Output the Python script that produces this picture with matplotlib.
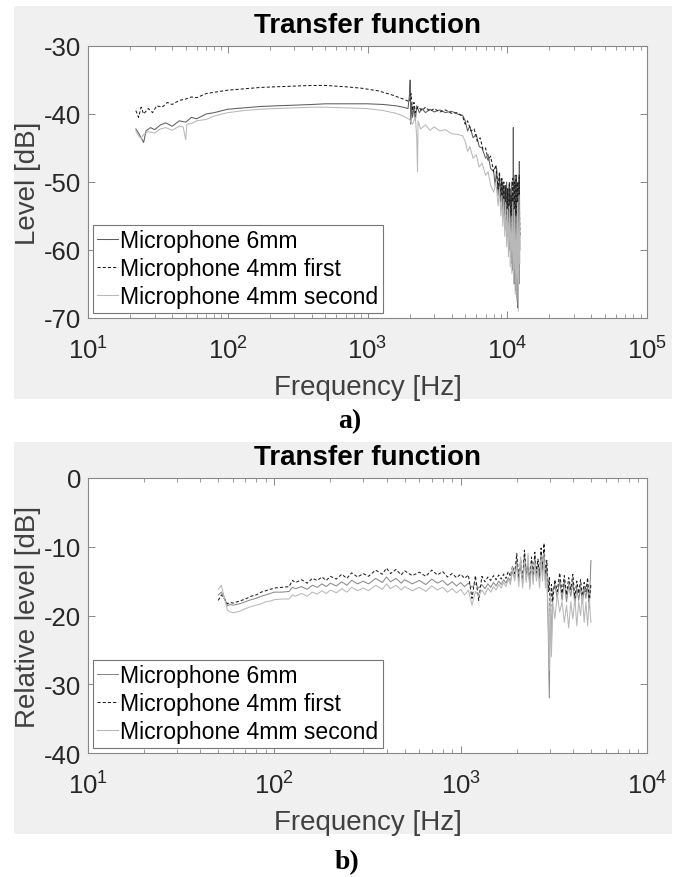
import matplotlib
matplotlib.use("Agg")
import matplotlib.pyplot as plt
from matplotlib.patches import Rectangle
from matplotlib.ticker import LogLocator, NullFormatter

plt.rcParams['font.family'] = ['Liberation Sans', 'DejaVu Sans']
plt.rcParams['axes.unicode_minus'] = False
plt.rcParams['mathtext.fontset'] = 'custom'
plt.rcParams['mathtext.rm'] = 'Liberation Sans'

labels = ["Microphone 6mm", "Microphone 4mm first", "Microphone 4mm second"]

# ---------- panel a ----------
a_6mm_f = [22, 23, 24, 25, 26, 28, 30, 33, 36, 40, 45, 50, 55, 60, 70, 80, 100, 130, 170, 220,
           300, 400, 500, 700, 1000, 1300, 1600, 1800, 1950, 2000, 2020, 2040, 2070, 2100, 2150,
           2200, 2250, 2350, 2450, 2600, 2800, 3000, 3300, 3600, 4000, 4400, 4800, 5000, 5200,
           5400, 5700, 6000, 6300, 6600, 7000, 7300, 7600,
           8000, 8200, 8400, 8600, 8800, 9000, 9100, 9200, 9300, 9400, 9500, 9600, 9700, 9800,
           9900, 10000, 10100, 10200, 10300, 10400, 10500, 10600, 10700, 10800, 10900, 11000,
           11050, 11100, 11200, 11300, 11400, 11500, 11600, 11700, 11800, 11900, 12000, 12100,
           12200, 12300]
a_6mm_v = [-42.2, -42.8, -43.5, -44.2, -42.5, -42.0, -42.3, -41.6, -41.3, -41.8, -41.0, -41.2,
           -40.5, -40.7, -40.0, -39.8, -39.3, -39.1, -38.9, -38.8, -38.7, -38.6, -38.5, -38.5,
           -38.5, -38.6, -38.8, -39.0, -39.2, -37.0, -35.0, -41.5, -38.5, -40.5, -39.0, -41.0,
           -38.8, -39.8, -39.2, -39.8, -39.3, -39.7, -39.4, -39.8, -39.6, -40.0, -40.2, -41.0,
           -42.5, -41.8, -43.5, -43.0, -44.8, -45.0, -46.5, -46.0, -48.0,
           -48.5, -50.5, -48.0, -52.0, -49.0, -53.0, -49.5, -54.0, -50.0, -55.0, -50.5, -56.0,
           -51.0, -57.0, -50.0, -58.0, -51.0, -59.0, -50.5, -60.0, -51.0, -61.0, -50.0, -62.0,
           -52.0, -63.0, -42.0, -64.0, -49.0, -65.0, -50.0, -66.0, -49.0, -67.0, -51.0, -68.5,
           -50.0, -65.0, -47.0, -60.0]

a_first_f = [22, 23, 24, 25, 27, 29, 31, 34, 37, 40, 45, 50, 55, 60, 70, 80, 100, 130, 170, 220,
             300, 400, 500, 700, 900, 1200, 1500, 1800, 2000, 2050, 2100, 2150, 2200, 2300, 2450,
             2600, 2800, 3000, 3300, 3600, 4000, 4400, 4800, 5000, 5200, 5500, 5800, 6100, 6400,
             6700, 7000, 7300, 7600, 8000, 8300, 8600, 8800, 9000, 9150, 9300, 9450, 9600, 9750,
             9900, 10050, 10200, 10350, 10500, 10650, 10800, 10950, 11100, 11250, 11400, 11550,
             11700, 11850, 12000, 12150, 12300]
a_first_v = [-39.5, -40.5, -39.0, -40.0, -39.2, -39.8, -38.8, -39.0, -38.3, -38.6, -38.0, -37.8,
             -37.5, -37.6, -37.0, -36.8, -36.5, -36.3, -36.1, -36.0, -35.9, -35.8, -35.8, -36.0,
             -36.2, -36.6, -37.2, -37.8, -38.2, -37.0, -39.5, -38.3, -39.8, -38.9, -39.5, -39.0,
             -39.6, -39.2, -39.7, -39.4, -39.9, -39.8, -40.4, -41.5, -41.0, -42.5, -42.2, -44.0,
             -43.5, -45.2, -45.0, -46.8, -46.2, -48.5, -47.5, -51.0, -48.5, -53.0, -49.5, -54.0,
             -50.0, -55.5, -50.5, -56.5, -51.0, -58.0, -50.0, -59.0, -52.0, -61.0, -49.5, -62.0,
             -50.0, -64.0, -49.0, -65.5, -50.0, -66.0, -49.0, -58.0]

a_second_f = [22, 23, 24, 25, 27, 30, 33, 36, 40, 45, 48, 50, 51, 55, 60, 70, 80, 100, 130, 170,
              220, 300, 400, 500, 700, 1000, 1300, 1600, 1800, 2000, 2100, 2200, 2250, 2280, 2300,
              2400, 2600, 2800, 3000, 3300, 3600, 4000, 4400, 4800, 5000, 5200, 5400, 5700, 6000,
              6300, 6600, 7000, 7300, 7600, 8000, 8300, 8600, 8800, 9000, 9150, 9300, 9450, 9600,
              9750, 9900, 10050, 10200, 10350, 10500, 10650, 10800, 10950, 11100, 11250, 11400,
              11550, 11700, 11850, 12000, 12150, 12300]
a_second_v = [-42.5, -43.2, -43.6, -43.0, -42.6, -42.8, -42.2, -42.0, -42.4, -41.8, -41.9, -43.8,
              -41.5, -41.4, -41.0, -40.8, -40.3, -39.8, -39.5, -39.3, -39.2, -39.1, -39.0, -39.0,
              -39.1, -39.2, -39.5, -39.9, -40.3, -40.8, -41.5, -40.5, -43.5, -48.5, -41.0, -42.2,
              -41.6, -42.4, -41.9, -42.5, -42.3, -42.9, -43.0, -43.2, -44.0, -45.5, -44.8, -46.5,
              -46.0, -47.8, -47.2, -49.0, -48.5, -50.5, -51.5, -50.0, -53.5, -51.0, -55.0, -52.0,
              -56.5, -52.5, -58.0, -53.0, -59.5, -54.0, -61.0, -53.5, -62.5, -55.0, -63.5, -53.0,
              -65.0, -54.0, -66.5, -55.0, -67.5, -53.0, -69.0, -52.0, -62.0]

# ---------- panel b ----------
b_f = [50, 52, 54, 56, 58, 60, 65, 70, 75, 80, 85, 90, 95, 100, 110, 120, 125, 130, 140, 150,
       160, 170, 180, 190, 200, 215, 230, 245, 260, 280, 300, 320, 350, 380, 400, 420, 450, 480,
       500, 550, 600, 650, 700, 750, 800, 850, 900, 950, 1000, 1050, 1100, 1150, 1200, 1250,
       1300, 1350, 1400, 1450, 1500, 1550, 1600, 1650, 1700, 1750, 1800, 1850, 1900, 1950,
       2000, 2050, 2100, 2150, 2200, 2250, 2300, 2350, 2400, 2450, 2500, 2550, 2600, 2650,
       2700, 2750, 2800, 2850, 2900, 2950, 2990, 3030, 3070, 3120, 3200, 3300, 3400, 3500,
       3600, 3700, 3800, 3900, 4000, 4100, 4200, 4300, 4400, 4500, 4600, 4700, 4800, 4900, 5000]
b_6mm_v = [-17.0, -16.6, -17.4, -18.6, -18.4, -18.5, -18.3, -18.0, -17.7, -17.5, -17.2, -17.0,
           -16.8, -16.6, -16.6, -16.5, -15.9, -16.1, -15.8, -16.2, -15.6, -15.9, -15.4, -15.8,
           -15.3, -15.7, -15.1, -15.6, -14.9, -15.4, -15.0, -15.4, -14.6, -15.2, -14.4, -15.1,
           -14.6, -15.3, -14.8, -15.4, -14.9, -15.5, -14.7, -15.3, -14.9, -15.6, -15.1, -15.7,
           -15.2, -15.8, -15.3, -15.9, -15.4, -16.0, -15.5, -16.1, -15.4, -15.9, -15.2, -15.7,
           -15.0, -15.5, -14.8, -15.3, -14.5, -15.0, -13.5, -14.6, -12.0, -15.0, -12.5, -15.5,
           -11.2, -14.8, -12.5, -15.8, -12.0, -15.0, -11.5, -14.5, -12.5, -15.2, -11.0, -14.2,
           -10.5, -15.0, -13.0, -22.0, -32.0, -18.0, -24.0, -16.5, -15.5, -17.5, -14.8, -17.8,
           -15.0, -18.0, -15.5, -17.2, -15.0, -18.5, -16.0, -17.8, -15.8, -18.2, -16.0, -17.5,
           -15.5, -19.0, -12.0]
b_first_v = [-17.8, -17.0, -17.6, -18.3, -18.1, -18.2, -17.9, -17.6, -17.2, -17.0, -16.6, -16.4,
             -16.2, -16.0, -15.9, -15.8, -14.9, -15.2, -14.8, -15.3, -14.6, -14.9, -14.4, -14.9,
             -14.3, -14.7, -14.0, -14.6, -13.8, -14.4, -13.9, -14.3, -13.4, -14.0, -13.1, -13.9,
             -13.3, -14.1, -13.5, -14.2, -13.7, -14.3, -13.4, -14.1, -13.6, -14.4, -13.9, -14.5,
             -14.0, -14.6, -14.1, -17.5, -14.2, -17.8, -14.3, -15.1, -14.4, -14.9, -14.2, -14.8,
             -14.1, -14.7, -14.0, -14.6, -13.6, -14.3, -12.8, -13.9, -11.0, -14.5, -12.0, -14.8,
             -10.5, -14.0, -12.0, -15.0, -11.5, -14.2, -10.8, -13.8, -11.8, -14.5, -10.2, -13.5,
             -9.5, -14.0, -12.0, -16.5, -14.5, -20.0, -15.5, -18.0, -14.8, -16.5, -13.8, -16.8,
             -14.2, -17.0, -14.5, -16.2, -14.0, -17.5, -15.0, -16.8, -14.8, -17.2, -15.2, -16.5,
             -14.5, -18.0, -15.5]
b_second_v = [-16.2, -15.6, -17.5, -19.2, -19.5, -19.6, -19.4, -19.0, -18.7, -18.5, -18.3, -18.0,
              -17.9, -17.7, -17.6, -17.6, -17.0, -17.2, -16.8, -17.2, -16.6, -16.9, -16.4, -16.8,
              -16.3, -16.7, -16.1, -16.6, -15.9, -16.4, -16.0, -16.4, -15.6, -16.2, -15.4, -16.1,
              -15.6, -16.3, -15.8, -16.4, -15.9, -16.5, -15.7, -16.3, -15.9, -16.6, -16.1, -16.7,
              -16.2, -17.0, -16.3, -18.5, -16.5, -17.2, -16.3, -17.0, -16.0, -16.6, -15.8, -16.3,
              -15.5, -16.0, -15.2, -15.8, -14.8, -15.5, -13.0, -15.0, -12.5, -15.8, -11.5, -16.0,
              -12.0, -15.2, -11.0, -16.2, -12.5, -15.5, -12.0, -15.0, -13.0, -16.0, -11.5, -15.0,
              -11.0, -16.0, -14.0, -20.0, -28.0, -17.0, -26.0, -18.0, -20.5, -17.0, -19.5, -18.0,
              -21.0, -18.5, -21.8, -18.0, -20.5, -17.5, -21.5, -18.0, -20.0, -17.0, -21.0, -18.0,
              -21.5, -17.5, -21.0]

W, H = 681, 878
fig = plt.figure(figsize=(W / 100, H / 100), dpi=100)
fig.patch.set_facecolor('white')

bg = '#f0f0f0'
fig.patches.append(Rectangle((14 / W, 1 - 400 / H), 658 / W, 393 / H, transform=fig.transFigure,
                             facecolor=bg, edgecolor='none', zorder=-10))
fig.patches.append(Rectangle((14 / W, 1 - 835 / H), 658 / W, 392 / H, transform=fig.transFigure,
                             facecolor=bg, edgecolor='none', zorder=-10))

axA = fig.add_axes([88 / W, 1 - 319 / H, 559 / W, 272 / H])
axB = fig.add_axes([88 / W, 1 - 754 / H, 559 / W, 275 / H])

c6, cf, cs = '#5e5e5e', '#1e1e1e', '#b8b8b8'
lw = 0.75

axA.plot(a_6mm_f, a_6mm_v, color=c6, lw=lw, ls='-', label=labels[0])
axA.plot(a_first_f, a_first_v, color=cf, lw=lw, ls=(0, (3, 2)), label=labels[1])
axA.plot(a_second_f, a_second_v, color=cs, lw=lw, ls='-', label=labels[2])

axB.plot(b_f, b_6mm_v, color='#8a8a8a', lw=lw, ls='-', label=labels[0])
axB.plot(b_f, b_first_v, color=cf, lw=lw, ls=(0, (3, 2)), label=labels[1])
axB.plot(b_f, b_second_v, color=cs, lw=lw, ls='-', label=labels[2])

fs_tick = 18.5
fs_lab = 20
fs_leg = 16.6
spine_c = '#888888'
text_c = '#262626'
for ax, xl, yl, ylab, yt in [(axA, (10, 1e5), (-70, -30), 'Level [dB]', [-70, -60, -50, -40, -30]),
                             (axB, (10, 1e4), (-40, 0), 'Relative level [dB]', [-40, -30, -20, -10, 0])]:
    ax.set_xscale('log')
    ax.set_xlim(*xl)
    ax.set_ylim(*yl)
    ax.set_yticks(yt)
    ax.set_yticklabels([str(v) for v in yt])
    ax.xaxis.set_major_locator(LogLocator(base=10, numticks=10))
    ax.xaxis.set_minor_locator(LogLocator(base=10, subs=range(2, 10), numticks=20))
    ax.xaxis.set_minor_formatter(NullFormatter())
    ax.tick_params(which='both', direction='in', top=True, right=True, color=spine_c,
                   labelcolor=text_c, labelsize=fs_tick)
    ax.tick_params(which='major', length=5, width=0.7)
    ax.tick_params(which='minor', length=3, width=0.6)
    ax.tick_params(axis='x', which='major', pad=13)
    ax.tick_params(axis='y', which='major', pad=5)
    for s in ax.spines.values():
        s.set_color(spine_c)
        s.set_linewidth(0.8)
    ax.set_xlabel('Frequency [Hz]', fontsize=fs_lab, color='#404040', labelpad=8)
    ax.set_ylabel(ylab, fontsize=fs_lab, color='#404040', labelpad=2)
    ax.set_title('Transfer function', fontsize=fs_lab, fontweight='bold', color='black', pad=10)
    ax.set_facecolor('white')
    leg = ax.legend(loc='lower left', bbox_to_anchor=(0.009, 0.02), borderaxespad=0,
                    fontsize=fs_leg, handlelength=0.9, handletextpad=0.1, labelspacing=0.22,
                    borderpad=0.18, frameon=True, fancybox=False, framealpha=1)
    leg.get_frame().set_edgecolor('#777777')
    leg.get_frame().set_linewidth(0.8)
    for t in leg.get_texts():
        t.set_color('black')

fig.text(350 / W, 1 - 422 / H, 'a)', ha='center', va='center', fontsize=20, fontweight='bold',
         family='Liberation Serif')
fig.text(347 / W, 1 - 863 / H, 'b)', ha='center', va='center', fontsize=20, fontweight='bold',
         family='Liberation Serif')

fig.savefig('out.png', dpi=100, facecolor='white')
